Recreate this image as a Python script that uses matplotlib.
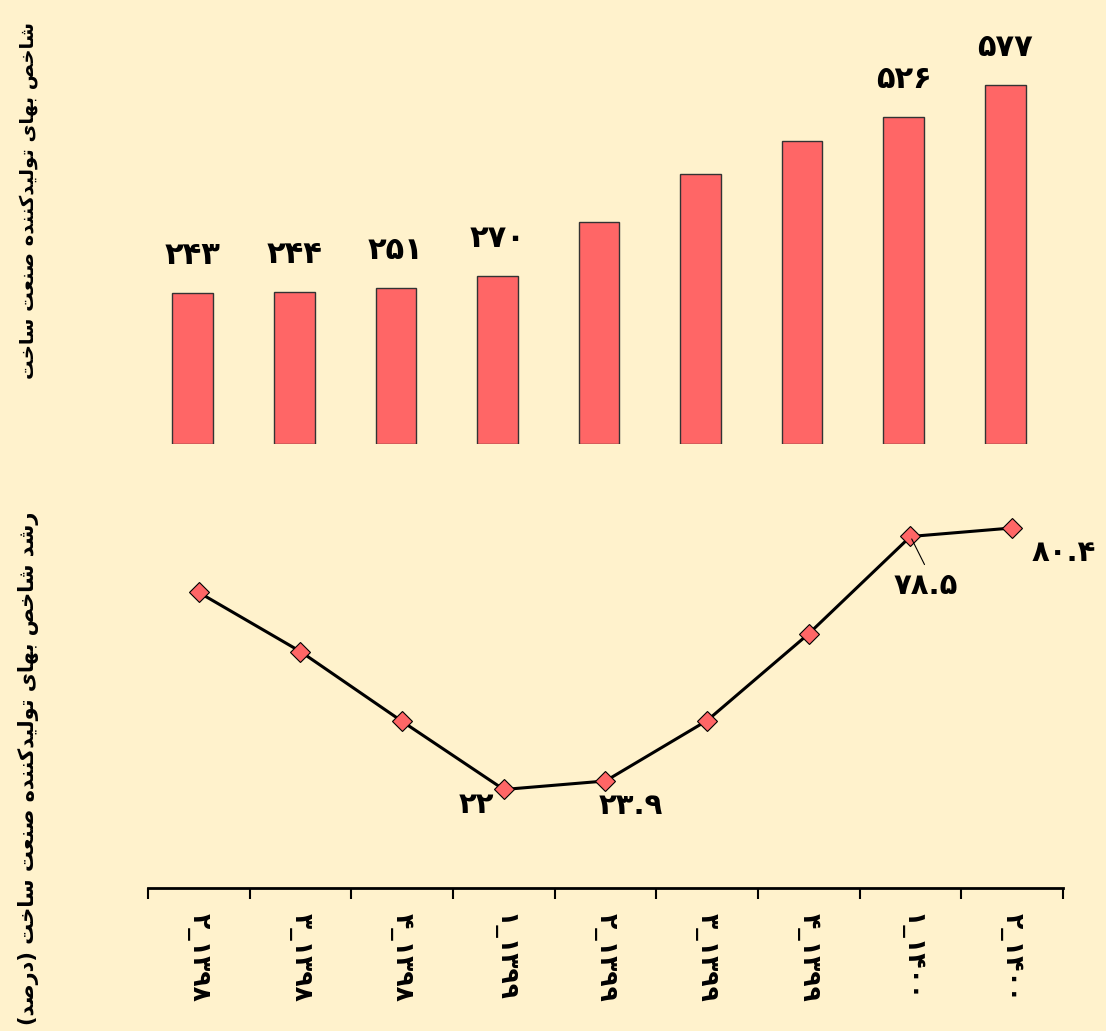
import matplotlib
matplotlib.use("Agg")
import matplotlib.pyplot as plt
import numpy as np

plt.rcParams['font.family'] = ['DejaVu Sans']

PERIODS = ['۲_۱۳۹۸', '۳_۱۳۹۸', '۴_۱۳۹۸', '۱_۱۳۹۹', '۲_۱۳۹۹', '۳_۱۳۹۹', '۴_۱۳۹۹', '۱_۱۴۰۰', '۲_۱۴۰۰']
INDEX = [243, 244, 251, 270, 357, 434, 487, 526, 577]
INDEX_LABELS = ['۲۴۳', '۲۴۴', '۲۵۱', '۲۷۰', '', '', '', '۵۲۶', '۵۷۷']
GROWTH = [66.0, 52.8, 37.2, 22.0, 23.9, 37.4, 56.8, 78.5, 80.4]
GROWTH_LABELS = ['', '', '', '۲۲', '۲۳.۹', '', '', '۷۸.۵', '۸۰.۴']
YLAB_TOP = 'شاخص بهای تولیدکننده صنعت ساخت'
YLAB_BOT = 'رشد شاخص بهای تولیدکننده صنعت ساخت (درصد)'

BG = '#FFF2CC'; RED = '#FF6666'

# minimal arabic shaping: (isolated, final, initial, medial)
FORMS = {
    'ا': ('\uFE8D', '\uFE8E', None, None), 'ب': ('\uFE8F', '\uFE90', '\uFE91', '\uFE92'),
    'ت': ('\uFE95', '\uFE96', '\uFE97', '\uFE98'), 'خ': ('\uFEA5', '\uFEA6', '\uFEA7', '\uFEA8'),
    'د': ('\uFEA9', '\uFEAA', None, None), 'ر': ('\uFEAD', '\uFEAE', None, None),
    'س': ('\uFEB1', '\uFEB2', '\uFEB3', '\uFEB4'), 'ش': ('\uFEB5', '\uFEB6', '\uFEB7', '\uFEB8'),
    'ص': ('\uFEB9', '\uFEBA', '\uFEBB', '\uFEBC'), 'ع': ('\uFEC9', '\uFECA', '\uFECB', '\uFECC'),
    'ل': ('\uFEDD', '\uFEDE', '\uFEDF', '\uFEE0'), 'ن': ('\uFEE5', '\uFEE6', '\uFEE7', '\uFEE8'),
    'ه': ('\uFEE9', '\uFEEA', '\uFEEB', '\uFEEC'), 'و': ('\uFEED', '\uFEEE', None, None),
    'ی': ('\uFEEF', '\uFEF0', '\uFEF3', '\uFEF4'), 'ک': ('\uFED9', '\uFEDA', '\uFEDB', '\uFEDC'),
}


def shape(s):
    out = []
    for i, c in enumerate(s):
        if c not in FORMS:
            out.append(c); continue
        prev = s[i - 1] if i > 0 else ''
        nxt = s[i + 1] if i + 1 < len(s) else ''
        jp = prev in FORMS and FORMS[prev][2] is not None
        jn = nxt in FORMS and FORMS[c][2] is not None
        f = FORMS[c]
        out.append(f[3] if jp and jn else f[1] if jp else f[2] if jn else f[0])
    vis = ''.join(reversed(out))
    return vis.translate(str.maketrans('()', ')('))


x = np.arange(len(PERIODS))
fig = plt.figure(figsize=(11.06, 10.31), dpi=100, facecolor=BG)

# top: bars
ax1 = fig.add_axes([0.1284, 0.5693, 0.8264, 0.3919], facecolor=BG)
ax1.bar(x, INDEX, width=0.4, color=RED, edgecolor='#333333', lw=1)
for xi, v, t in zip(x, INDEX, INDEX_LABELS):
    if t:
        ax1.annotate(t, (xi, v), xytext=(0, 27), textcoords='offset points',
                     ha='center', va='center', fontsize=22, fontweight='bold')
ax1.set_xlim(-0.5, len(x) - 0.5); ax1.set_ylim(0, 650)
ax1.axis('off')

# bottom: growth line
ax2 = fig.add_axes([0.1338, 0.1387, 0.8273, 0.3909], facecolor=BG)
ax2.plot(x, GROWTH, color='black', lw=2.2, marker='D', ms=10,
         mfc=RED, mec='black', mew=0.8, zorder=3)
offs = {3: (-20, -11), 4: (18, -18), 7: (11, -36), 8: (37, -18)}
for i, t in enumerate(GROWTH_LABELS):
    if t:
        dx, dy = offs[i]
        ax2.annotate(t, (x[i], GROWTH[i]), xytext=(dx, dy), textcoords='offset points',
                     ha='center', va='center', fontsize=21, fontweight='bold')
ax2.annotate('', (x[7], GROWTH[7]), xytext=(11, -22), textcoords='offset points',
             arrowprops=dict(arrowstyle='-', color='black', lw=0.8))
ax2.set_xlim(-0.5, len(x) - 0.5); ax2.set_ylim(0, 90)
for s in ['top', 'right', 'left']:
    ax2.spines[s].set_visible(False)
ax2.spines['bottom'].set_linewidth(2)
ax2.set_yticks([])
ax2.set_xticks(np.arange(-0.5, len(x)), labels=[])
ax2.tick_params(axis='x', which='major', length=8, width=1.5, direction='out')
ax2.set_xticks(x, labels=PERIODS, minor=True)
ax2.tick_params(axis='x', which='minor', length=0, pad=18, labelsize=18, labelrotation=-90)
for lab in ax2.get_xticklabels(minor=True):
    lab.set_fontweight('bold'); lab.set_va('top'); lab.set_ha('center')

fig.text(0.026, 0.806, shape(YLAB_TOP), rotation=90, ha='center', va='center',
         fontsize=14, fontweight='bold')
fig.text(0.026, 0.255, shape(YLAB_BOT), rotation=90, ha='center', va='center',
         fontsize=15, fontweight='bold')

fig.savefig('out.png', dpi=100, facecolor=BG)
